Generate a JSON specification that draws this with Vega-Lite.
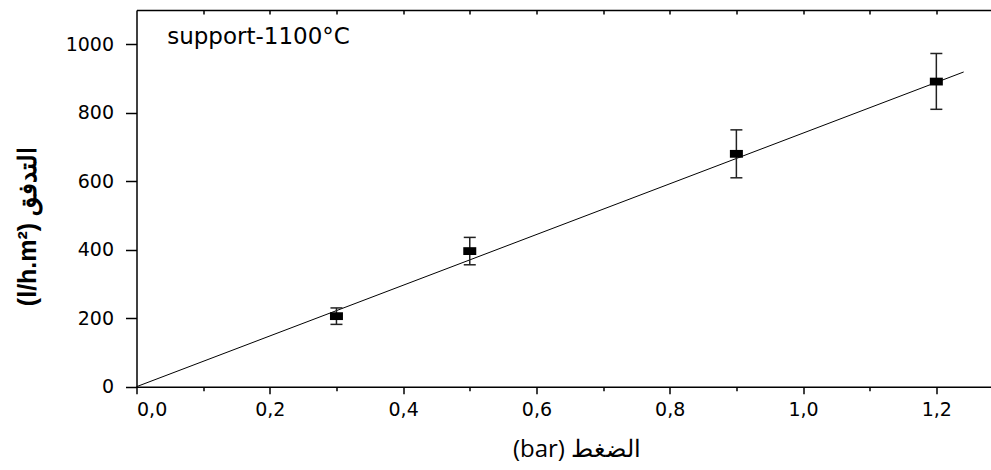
{
  "$schema": "https://vega.github.io/schema/vega-lite/v6.json",
  "width": 854.5,
  "height": 376.7,
  "autosize": {"type": "none"},
  "padding": {"left": 136.5, "top": 10, "right": 0, "bottom": 83.3},
  "background": "white",
  "config": {"view": {"stroke": null}, "axis": {"grid": false}},
  "datasets": {
    "points": [
      {"pressure": 0.3, "flux": 206, "lo": 182, "hi": 230},
      {"pressure": 0.5, "flux": 396, "lo": 356, "hi": 436},
      {"pressure": 0.9, "flux": 680, "lo": 610, "hi": 750},
      {"pressure": 1.2, "flux": 891, "lo": 810, "hi": 973}
    ],
    "fit": [
      {"pressure": 0, "flux": 0},
      {"pressure": 1.241, "flux": 919}
    ],
    "label": [
      {"pressure": 0.046, "flux": 1000, "text": "support-1100°C"}
    ]
  },
  "layer": [
    {
      "data": {"name": "fit"},
      "mark": {"type": "line", "color": "black", "strokeWidth": 1},
      "encoding": {
        "x": {
          "field": "pressure", "type": "quantitative",
          "scale": {"domain": [0, 1.282], "nice": false, "zero": false},
          "axis": {
            "orient": "bottom",
            "values": [0, 0.1, 0.2, 0.3, 0.4, 0.5, 0.6, 0.7, 0.8, 0.9, 1.0, 1.1, 1.2],
            "labelExpr": "round(datum.value*10)%2==0 ? replace(format(datum.value,'.1f'),'.',',') : ''",
            "tickSize": {"condition": {"test": "round(datum.value*10)%2==0", "value": 7}, "value": 4},
            "tickColor": "black",
            "tickWidth": 1.5,
            "domainColor": "black",
            "domainWidth": 1.5,
            "labelFont": "DejaVu Sans",
            "labelFontSize": 19,
            "labelColor": "black",
            "labelPadding": 7,
            "labelBaseline": "top",
            "title": "(bar) الضغط",
            "titleFont": "Open Sans",
            "titleFontSize": 24,
            "titleFontWeight": "normal",
            "titleColor": "black",
            "titleX": 440,
            "titleY": 63,
            "titleAlign": "center",
            "titleBaseline": "middle"
          }
        },
        "y": {
          "field": "flux", "type": "quantitative",
          "scale": {"domain": [0, 1100], "nice": false, "zero": false},
          "axis": {
            "values": [0, 100, 200, 300, 400, 500, 600, 700, 800, 900, 1000],
            "labelExpr": "datum.value%200==0 ? ''+datum.value : ''",
            "tickSize": {"condition": {"test": "datum.value%200==0", "value": 11}, "value": 5},
            "tickColor": "black",
            "tickWidth": 1.5,
            "domainColor": "black",
            "domainWidth": 1.5,
            "labelFont": "DejaVu Sans",
            "labelFontSize": 19,
            "labelColor": "black",
            "labelPadding": 12,
            "title": "(l/h.m²) التدفق",
            "titleFont": "Liberation Sans",
            "titleFontSize": 25,
            "titleFontWeight": "bold",
            "titleColor": "black",
            "titleAngle": -90,
            "titleX": -109.5,
            "titleY": 216,
            "titleAlign": "center",
            "titleBaseline": "middle"
          }
        }
      }
    },
    {
      "data": {"name": "fit"},
      "mark": {"type": "point", "opacity": 0},
      "encoding": {
        "x": {
          "field": "pressure", "type": "quantitative",
          "axis": {
            "orient": "top",
            "values": [0.1, 0.2, 0.3, 0.4, 0.5, 0.6, 0.7, 0.8, 0.9, 1.0, 1.1, 1.2],
            "labels": false,
            "title": null,
            "tickSize": -4,
            "tickColor": "black",
            "tickWidth": 1.5,
            "domainColor": "black",
            "domainWidth": 1.5
          }
        },
        "y": {"field": "flux", "type": "quantitative"}
      }
    },
    {
      "data": {"name": "points"},
      "mark": {"type": "rule", "color": "#222222", "strokeWidth": 1.5},
      "encoding": {
        "x": {"field": "pressure", "type": "quantitative", "axis": null},
        "y": {"field": "lo", "type": "quantitative"},
        "y2": {"field": "hi"}
      }
    },
    {
      "data": {"name": "points"},
      "mark": {"type": "tick", "orient": "horizontal", "size": 12, "thickness": 1.5, "color": "#222222", "opacity": 1},
      "encoding": {
        "x": {"field": "pressure", "type": "quantitative", "axis": null},
        "y": {"field": "lo", "type": "quantitative"}
      }
    },
    {
      "data": {"name": "points"},
      "mark": {"type": "tick", "orient": "horizontal", "size": 12, "thickness": 1.5, "color": "#222222", "opacity": 1},
      "encoding": {
        "x": {"field": "pressure", "type": "quantitative", "axis": null},
        "y": {"field": "hi", "type": "quantitative"}
      }
    },
    {
      "data": {"name": "points"},
      "mark": {"type": "point", "shape": "M-1,-0.6H1V0.6H-1Z", "filled": true, "color": "black", "opacity": 1, "size": 169},
      "encoding": {
        "x": {"field": "pressure", "type": "quantitative", "axis": null},
        "y": {"field": "flux", "type": "quantitative"}
      }
    },
    {
      "data": {"name": "label"},
      "mark": {"type": "text", "align": "left", "baseline": "alphabetic", "font": "DejaVu Sans", "fontSize": 23, "color": "black"},
      "encoding": {
        "x": {"field": "pressure", "type": "quantitative", "axis": null},
        "y": {"field": "flux", "type": "quantitative"},
        "text": {"field": "text"}
      }
    }
  ],
  "resolve": {"axis": {"x": "independent"}}
}
